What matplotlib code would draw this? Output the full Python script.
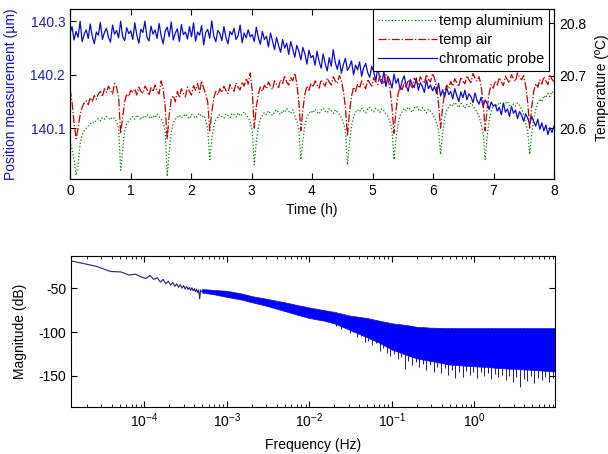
import numpy as np
import matplotlib
matplotlib.use("Agg")
import matplotlib.pyplot as plt

plt.rcParams['font.family'] = ['Liberation Sans', 'DejaVu Sans']
plt.rcParams['font.size'] = 10
plt.rcParams['mathtext.default'] = 'regular'
plt.rcParams['axes.unicode_minus'] = False

# chromatic probe, offset from 140 um in nm (one sample every 2 min over 8 h)
probe_nm = [
    278, 290, 265, 281, 270, 300, 262, 276, 284, 268, 295, 272, 258, 280, 274, 298, 266, 279, 287, 270, 261, 293, 276, 283, 269, 300, 271, 264, 288, 277,
    282, 266, 297, 274, 259, 285, 279, 300, 270, 263, 291, 276, 284, 268, 296, 273, 258, 281, 289, 271, 299, 265, 278, 286, 262, 294, 275, 280, 267, 290,
    271, 297, 263, 280, 274, 292, 256, 279, 285, 268, 301, 272, 262, 283, 277, 264, 290, 270, 258, 281, 275, 287, 266, 273, 293, 260, 278, 269, 284, 271,
    275, 262, 289, 270, 257, 281, 266, 272, 252, 278, 263, 247, 270, 255, 242, 266, 250, 259, 238, 262, 248, 233, 255, 244, 228, 251, 239, 220, 246, 232,
    236, 218, 244, 225, 212, 239, 221, 207, 232, 216, 247, 223, 210, 228, 203, 219, 231, 208, 215, 226, 200, 218, 209, 224, 197, 213, 221, 204, 195, 216,
    205, 188, 214, 192, 183, 206, 178, 197, 189, 175, 201, 184, 193, 172, 188, 198, 180, 169, 191, 182, 176, 194, 171, 185, 178, 167, 190, 174, 181, 170,
    178, 165, 184, 160, 172, 158, 176, 163, 169, 155, 174, 161, 150, 168, 157, 171, 153, 164, 159, 148, 166, 152, 145, 158, 140, 153, 146, 135, 149, 141,
    144, 132, 139, 125, 147, 130, 136, 122, 141, 128, 134, 118, 131, 124, 113, 127, 119, 108, 122, 112, 104, 117, 98, 110, 95, 106, 88, 101, 92, 104,
]

# temperatures, offset from 20.5 degC in mK
alu_mk = [
    75, 60, 40, 10, 30, 70, 88, 95, 100,
    104, 108, 112, 110, 115, 118, 114, 120, 117, 122, 119, 116, 121, 118, 112, 100, 20,
    60, 95, 108, 114, 118, 122, 117, 125, 120, 116, 123, 119, 126, 121, 118, 124, 120, 127, 122, 117, 110, 95, 8,
    55, 92, 110, 117, 121, 125, 119, 123, 127, 121, 118, 126, 122, 119, 125, 128, 121, 124, 115, 98, 40,
    80, 104, 116, 121, 126, 122, 119, 127, 124, 120, 128, 125, 121, 129, 123, 126, 131, 125, 120, 112, 96, 30,
    75, 102, 118, 124, 130, 126, 133, 128, 124, 131, 135, 129, 126, 134, 130, 137, 132, 128, 135, 124, 113, 98, 40,
    78, 105, 120, 128, 133, 129, 136, 131, 127, 134, 138, 132, 129, 137, 133, 128, 135, 131, 126, 120, 110, 95, 30,
    72, 104, 121, 130, 135, 131, 138, 133, 129, 136, 140, 134, 131, 138, 135, 130, 137, 133, 128, 122, 112, 97, 40,
    80, 108, 124, 131, 137, 133, 140, 135, 130, 138, 142, 136, 132, 139, 134, 129, 136, 132, 127, 120, 110, 96, 50,
    90, 118, 133, 140, 146, 142, 149, 144, 139, 147, 143, 138, 145, 141, 148, 142, 137, 130, 122, 108, 92, 40,
    85, 115, 132, 141, 146, 142, 149, 145, 140, 147, 151, 144, 139, 146, 142, 148, 143, 136, 126, 110, 95, 50,
    90, 118, 135, 148, 156, 150, 162, 158, 166, 160, 170, 164,
]

air_mk = [
    175, 150, 110, 80, 100, 125, 140, 148, 152,
    145, 158, 150, 162, 155, 165, 170, 160, 175, 168, 180, 172, 165, 185, 178, 160, 90,
    120, 150, 165, 160, 172, 168, 175, 163, 178, 170, 166, 180, 174, 162, 177, 169, 182, 171, 165, 190, 175, 140, 80,
    125, 155, 162, 150, 170, 158, 175, 166, 160, 178, 170, 163, 181, 172, 185, 168, 190, 176, 165, 150, 95,
    130, 158, 170, 163, 175, 168, 180, 172, 166, 183, 176, 170, 186, 178, 173, 188, 180, 195, 184, 205, 170, 100,
    140, 165, 178, 170, 182, 175, 188, 180, 174, 190, 183, 177, 192, 185, 200, 188, 182, 196, 190, 205, 185, 150, 95,
    135, 165, 180, 172, 185, 178, 190, 182, 176, 192, 186, 180, 195, 188, 182, 198, 190, 185, 200, 192, 170, 140, 85,
    130, 160, 178, 170, 184, 176, 190, 182, 175, 193, 186, 180, 196, 188, 183, 200, 191, 186, 202, 193, 175, 140, 90,
    135, 165, 180, 173, 187, 178, 192, 184, 177, 195, 188, 182, 198, 190, 185, 202, 193, 188, 204, 195, 178, 145, 100,
    140, 168, 182, 175, 189, 180, 194, 186, 179, 197, 190, 184, 200, 192, 187, 204, 195, 190, 198, 180, 150, 95,
    138, 168, 183, 176, 190, 182, 196, 188, 181, 199, 192, 186, 202, 194, 189, 205, 197, 192, 200, 182, 150, 100,
    140, 170, 185, 178, 192, 184, 198, 190, 183, 200, 193, 188,
]

# spectrum: low-frequency single line
line_freq = [1.3e-5, 2.6e-5, 3.9e-5, 5.2e-5, 6.5e-5, 7.8e-5, 9.1e-5, 1.04e-4, 1.17e-4, 1.30e-4,
             1.43e-4, 1.56e-4, 1.69e-4, 1.82e-4, 1.95e-4, 2.08e-4, 2.21e-4, 2.34e-4, 2.47e-4, 2.60e-4,
             2.73e-4, 2.86e-4, 2.99e-4, 3.12e-4, 3.25e-4, 3.38e-4, 3.51e-4, 3.64e-4, 3.77e-4, 3.90e-4,
             4.03e-4, 4.16e-4, 4.29e-4, 4.42e-4, 4.55e-4, 4.68e-4, 4.81e-4, 4.94e-4]
line_db = [-19, -25, -31, -31.5, -35, -34, -37, -39, -35.5, -40,
           -38, -43, -40, -45, -42, -46.5, -43.5, -48, -45, -49,
           -46, -50, -47, -51, -48, -51.5, -49, -52.5, -49.5, -53,
           -50.5, -54, -51, -55, -52, -62, -52, -54]

# spectrum: dense band envelope
band_freq = [5e-4, 7e-4, 1e-3, 1.5e-3, 2e-3, 3e-3, 5e-3, 7e-3, 1e-2, 1.5e-2, 2e-2, 3e-2, 5e-2, 7e-2,
             0.1, 0.15, 0.2, 0.3, 0.5, 0.7, 1, 1.5, 2, 3, 5, 7, 9.5]
band_top = [-51, -52, -53, -56, -59, -62, -66, -69, -72, -75, -77, -81, -84, -87,
            -90, -92, -94, -95, -95.5, -95.5, -95.5, -95.5, -95.5, -95.5, -95.5, -95.5, -95.5]
band_bottom = [-55, -57, -60, -63, -66, -70, -76, -80, -84, -87, -90, -97, -106, -112,
               -120, -126, -130, -133, -137, -138, -139, -140, -141, -142, -143, -144, -145]

# spectrum: downward spikes under the band
spike_freq = [0.021, 0.024, 0.027, 0.031, 0.034, 0.038, 0.042, 0.047, 0.052, 0.058,
              0.064, 0.071, 0.079, 0.087, 0.096, 0.106, 0.118, 0.13, 0.144, 0.159,
              0.176, 0.195, 0.215, 0.238, 0.263, 0.291, 0.322, 0.356, 0.394, 0.435,
              0.481, 0.532, 0.588, 0.65, 0.719, 0.795, 0.879, 0.971, 1.07, 1.19,
              1.31, 1.45, 1.61, 1.78, 1.96, 2.17, 2.4, 2.65, 2.93, 3.24,
              3.59, 3.97, 4.39, 4.85, 5.36, 5.93, 6.55, 7.25, 8.01, 8.86]
spike_db = [-93, -96, -95, -101, -100, -106, -104, -111, -110, -115,
            -113, -121, -118, -124, -127, -125, -131, -128, -142, -133,
            -137, -134, -140, -136, -143, -138, -145, -140, -147, -141,
            -149, -143, -152, -146, -151, -144, -149, -145, -152, -146,
            -150, -147, -153, -148, -151, -149, -155, -150, -157, -151,
            -162, -153, -156, -150, -158, -152, -155, -151, -157, -152]

probe = 140 + np.array(probe_nm) / 1000.0
t_alu = 20.5 + np.array(alu_mk) / 1000.0
t_air = 20.5 + np.array(air_mk) / 1000.0
time_probe = np.linspace(0, 8, len(probe))
time_alu = np.linspace(0, 8, len(t_alu))
time_air = np.linspace(0, 8, len(t_air))

fig = plt.figure(figsize=(6.08, 4.54), dpi=100)

# top: position and temperatures
ax1 = fig.add_axes([70 / 608, 1 - 179 / 454, 484 / 608, 170 / 454])
ax2 = ax1.twinx()

h_probe, = ax1.plot(time_probe, probe, color='#0a0ad0', lw=0.9, label='chromatic probe')
h_alu, = ax2.plot(time_alu, t_alu, ':', color='#008000', lw=0.9, label='temp aluminium')
h_air, = ax2.plot(time_air, t_air, '-.', color='#c00000', lw=0.9, label='temp air')

ax1.set_xlim(0, 8)
ax1.set_ylim(140.005, 140.323)
ax2.set_ylim(20.503, 20.827)
ax1.set_xticks(range(0, 9))
ax1.set_yticks([140.1, 140.2, 140.3])
ax2.set_yticks([20.6, 20.7, 20.8])
ax1.tick_params(direction='in', length=4, top=True, labelcolor='#2020b0')
ax1.tick_params(axis='x', labelcolor='black')
ax2.tick_params(direction='in', length=4)

ax1.set_xlabel('Time (h)')
ax1.xaxis.set_label_coords(0.5, -0.141)
ax1.set_ylabel('Position measurement (\u00b5m)', color='#1010c0')
ax1.yaxis.set_label_coords(-0.107, 0.5)
ax2.set_ylabel('Temperature (\u00baC)')
ax2.yaxis.set_label_coords(1.085, 0.54)

leg = ax2.legend([h_alu, h_air, h_probe],
                 ['temp aluminium', 'temp air', 'chromatic probe'],
                 loc='upper right', bbox_to_anchor=(0.99, 1.0), borderaxespad=0,
                 handlelength=4, handletextpad=0.15, labelspacing=0.35, borderpad=0.35,
                 fancybox=False, framealpha=1, edgecolor='black', fontsize=10.5)
leg.get_frame().set_linewidth(0.8)

# bottom: magnitude spectrum
ax3 = fig.add_axes([71 / 608, 1 - 406.7 / 454, 484 / 608, 151 / 454])
ax3.set_xscale('log')
spike_top = np.interp(np.log10(spike_freq), np.log10(band_freq), band_top)
ax3.vlines(spike_freq, spike_db, spike_top, color='#1a1aa0', lw=0.7, zorder=1)
ax3.fill_between(band_freq, band_bottom, band_top, color='#0000ff', lw=0.5,
                 edgecolor='#1010d0', zorder=2)
ax3.plot(line_freq, line_db, color='#24246e', lw=0.8, zorder=3)

ax3.set_xlim(1.29e-5, 9.5)
ax3.set_ylim(-185, -13)
ax3.set_yticks([-50, -100, -150])
ax3.tick_params(which='both', direction='in', top=True, right=True)
ax3.tick_params(which='major', length=4)
ax3.tick_params(which='minor', length=2)
ax3.set_xlabel('Frequency (Hz)')
ax3.xaxis.set_label_coords(0.5, -0.207)
ax3.set_ylabel('Magnitude (dB)')
ax3.yaxis.set_label_coords(-0.091, 0.5)

fig.savefig('out.png', dpi=100)
